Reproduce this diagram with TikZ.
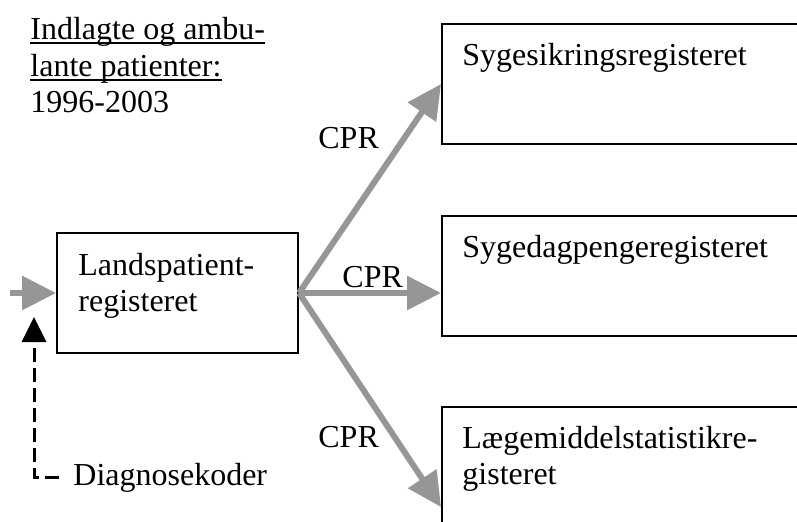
\documentclass[tikz,border=0pt]{standalone}
\usepackage{fontspec}
\setmainfont{Liberation Serif}
\usetikzlibrary{arrows.meta}

\definecolor{cprgray}{RGB}{150,150,150}

\tikzset{
    regbox/.style={draw, line width=1pt, inner sep=0pt},
    txt/.style={inner sep=0pt, anchor=base west, align=left,
        font=\fontsize{16pt}{18pt}\selectfont},
    cprarrow/.style={cprgray, line width=3pt, -{Triangle[length=17pt,width=16.5pt]}},
    codearrow/.style={black, line width=1.5pt, dash pattern=on 7pt off 3pt,
        -{Triangle[length=12.5pt,width=12pt]}},
}

\begin{document}
\begin{tikzpicture}[x=0.5pt, y=-0.5pt]
    \useasboundingbox (0,0) rectangle (797,521);
    \clip (0,0) rectangle (797,521);

    % heading, top left
    \node[txt] (hdr1) at (30,39) {Indlagte og ambu-};
    \node[txt] (hdr2) at (30,76) {lante patienter:};
    \node[txt] (hdr3) at (30,112) {1996-2003};
    \draw[line width=1pt] ([yshift=-2pt]hdr1.base west) -- ([yshift=-2pt]hdr1.base east);
    \draw[line width=1pt] ([yshift=-2pt]hdr2.base west) -- ([yshift=-2pt]hdr2.base east);

    % registers (base of a two-line text = its last line)
    \node[regbox, minimum width=120.5pt, minimum height=60pt] (lpr) at (177.5,293) {};
    \node[txt] (lprtxt) at (78,311) {Landspatient-\\registeret};

    \node[regbox, minimum width=184pt, minimum height=60pt] (sikring) at (626,84) {};
    \node[txt] (sikringtxt) at (462,65) {Sygesikringsregisteret};

    \node[regbox, minimum width=184pt, minimum height=60pt] (dagpenge) at (626,276) {};
    \node[txt] (dagpengetxt) at (462,257) {Sygedagpengeregisteret};

    \node[regbox, minimum width=184pt, minimum height=100pt] (lms) at (626,507) {};
    \node[txt] (lmstxt) at (462,484) {Lægemiddelstatistikre-\\gisteret};

    % CPR links
    \draw[cprarrow] (lpr.east) -- (sikring.west);
    \draw[cprarrow] (lpr.east) -- (lpr.east -| dagpenge.west);
    \draw[cprarrow] (lpr.east) -- (lms.west);
    \node[txt] (cpr1) at (318,148) {CPR};
    \node[txt] (cpr2) at (342,287) {CPR};
    \node[txt] (cpr3) at (318,447) {CPR};

    % input
    \coordinate (inflow) at (10,293);
    \draw[cprarrow] (inflow) -- (lpr.west);

    % diagnosis codes
    \node[txt] (diag) at (73,485) {Diagnosekoder};
    \coordinate (diagtip) at (34,317);
    \draw[codearrow] ([xshift=-7pt]diag.west) -| (diagtip);
\end{tikzpicture}
\end{document}
